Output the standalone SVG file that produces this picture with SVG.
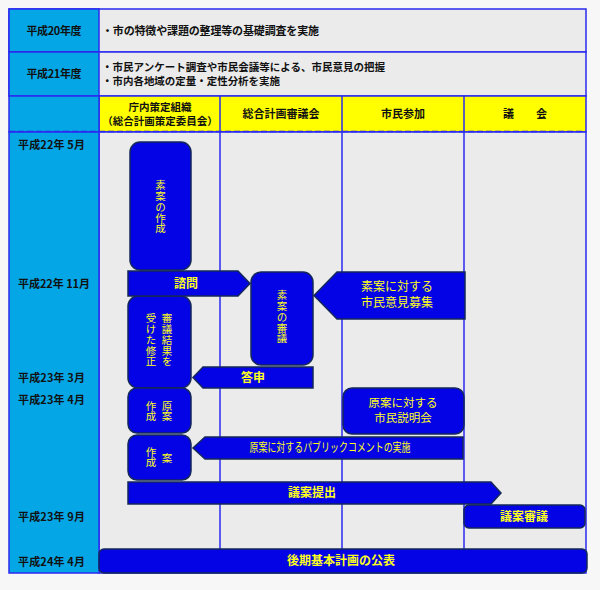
<svg xmlns="http://www.w3.org/2000/svg" width="600" height="590" viewBox="0 0 600 590">
<style>
.bg{fill:#F7F7F7}
.cell{fill:#EBEBEB;stroke:#2A2AF0;stroke-width:1.5}
.cyan{fill:#05A6E6;stroke:#2A2AF0;stroke-width:1.5}
.yel{fill:#FFFF00;stroke:#2A2AF0;stroke-width:1.5}
.vline{stroke:#2A2AF0;stroke-width:1.5}
.dash{stroke:#2A2AF0;stroke-width:1.5;stroke-dasharray:6 3;fill:none}
.box{fill:#0303E6;stroke:#14285A;stroke-width:1.5}
.t{font-family:"Noto Sans CJK JP","Noto Sans",sans-serif;font-size:11px;font-weight:bold;fill:#111}
.s{font-size:10.5px}
.c{text-anchor:middle}
.y{font-family:"Noto Sans CJK JP","Noto Sans",sans-serif;font-size:12px;fill:#FFFF20;text-anchor:middle}
.ys{font-size:11.5px}
.yb{font-weight:bold}
.v{font-family:"Noto Sans CJK JP","Noto Sans",sans-serif;font-size:10.5px;fill:#FFFF20;text-anchor:middle;writing-mode:vertical-rl;letter-spacing:0.2px}
</style>
<rect class="bg" x="0" y="0" width="600" height="590"/>
<g id="table">
<rect class="cell" x="9" y="9" width="577" height="43"/>
<rect class="cyan" x="9" y="9" width="90" height="43"/>
<rect class="cell" x="9" y="52" width="577" height="44"/>
<rect class="cyan" x="9" y="52" width="90" height="44"/>
<rect class="yel" x="99" y="96" width="487" height="36"/>
<rect class="cyan" x="9" y="96" width="90" height="36"/>
<rect class="cell" x="99" y="132" width="487" height="441"/>
<rect class="cyan" x="9" y="132" width="90" height="441"/>
<line class="vline" x1="220" y1="96" x2="220" y2="573"/>
<line class="vline" x1="342" y1="96" x2="342" y2="573"/>
<line class="vline" x1="464" y1="96" x2="464" y2="573"/>
<line class="dash" x1="9" y1="131.5" x2="586" y2="131.5"/>
<text class="t c" x="54" y="35" textLength="55">平成20年度</text>
<text class="t c" x="54" y="78" textLength="55">平成21年度</text>
<text class="t" x="102" y="35" textLength="217">・市の特徴や課題の整理等の基礎調査を実施</text>
<text class="t s" x="102" y="71" textLength="283">・市民アンケート調査や市民会議等による、市民意見の把握</text>
<text class="t s" x="102" y="85" textLength="178">・市内各地域の定量・定性分析を実施</text>
<text class="t s c" x="160" y="111">庁内策定組織</text>
<text class="t s c" x="160" y="125">（総合計画策定委員会）</text>
<text class="t c" x="281" y="118">総合計画審議会</text>
<text class="t c" x="403" y="118">市民参加</text>
<text class="t c" x="525" y="118">議　　会</text>
<text class="t" x="18" y="149" textLength="67">平成22年 5月</text>
<text class="t" x="18" y="288" textLength="72">平成22年 11月</text>
<text class="t" x="18" y="382" textLength="67">平成23年 3月</text>
<text class="t" x="18" y="404" textLength="67">平成23年 4月</text>
<text class="t" x="18" y="521" textLength="67">平成23年 9月</text>
<text class="t" x="18" y="566" textLength="67">平成24年 4月</text>
</g>
<g id="node-soan-sakusei">
<rect class="box" x="130" y="142" width="61" height="128" rx="10"/>
<text class="v" x="160.5" y="207">素案の作成</text>
</g>
<g id="node-soan-shingi">
<rect class="box" x="251" y="272" width="62" height="93" rx="10"/>
<text class="v" x="282" y="317">素案の審議</text>
</g>
<g id="node-shusei">
<rect class="box" x="128" y="296" width="63" height="92" rx="10"/>
<text class="v" x="167" y="340">審議結果を</text>
<text class="v" x="151" y="340">受けた修正</text>
</g>
<g id="node-genan-sakusei">
<rect class="box" x="128" y="388" width="63" height="45" rx="9"/>
<text class="v" x="167" y="411">原案</text>
<text class="v" x="151" y="411">作成</text>
</g>
<g id="node-an-sakusei">
<rect class="box" x="128" y="435" width="63" height="45" rx="9"/>
<text class="v" x="167" y="458">案</text>
<text class="v" x="151" y="457">作成</text>
</g>
<g id="node-setsumeikai">
<rect class="box" x="343" y="388" width="121" height="46" rx="9"/>
<text class="y ys"><tspan x="403" y="407">原案に対する</tspan><tspan x="403" y="422">市民説明会</tspan></text>
</g>
<g id="node-shingi-gikai">
<rect class="box" x="464" y="505" width="121" height="23" rx="5"/>
<text class="y yb" x="524" y="521">議案審議</text>
</g>
<g id="node-kohyo">
<rect class="box" x="99" y="549" width="488" height="24" rx="5"/>
<text class="y yb" x="341" y="565">後期基本計画の公表</text>
</g>
<g id="connectors">
<g id="arrow-shimon">
<polygon class="box" points="128,271 238,271 250,283.5 238,296 128,296"/>
<text class="y yb" x="186" y="288">諮問</text>
</g>
<g id="arrow-iken">
<polygon class="box" points="337,272 465,272 465,319 337,319 314,295.5"/>
<text class="y"><tspan x="397" y="291">素案に対する</tspan><tspan x="397" y="307">市民意見募集</tspan></text>
</g>
<g id="arrow-toshin">
<polygon class="box" points="203,367 313,367 313,388 203,388 193,377.5"/>
<text class="y yb" x="253" y="382">答申</text>
</g>
<g id="arrow-pubcom">
<polygon class="box" points="205,437 463,437 463,459 205,459 193,448"/>
<text class="y" x="330" y="452" textLength="161" lengthAdjust="spacingAndGlyphs">原案に対するパブリックコメントの実施</text>
</g>
<g id="arrow-teishutsu">
<polygon class="box" points="128,482 491,482 501,493 491,504 128,504"/>
<text class="y yb" x="312" y="497">議案提出</text>
</g>
</g>
</svg>
